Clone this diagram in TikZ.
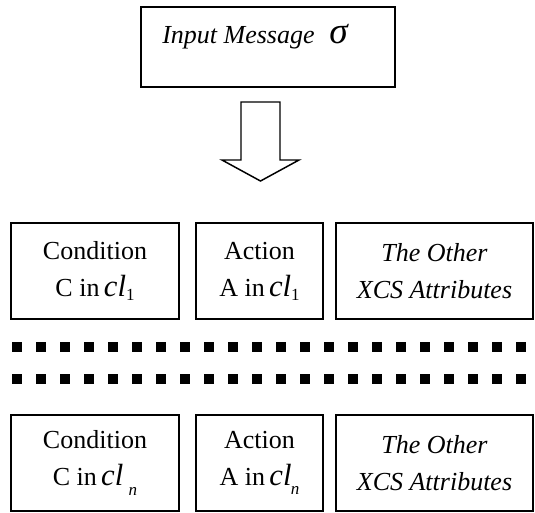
\documentclass[tikz,border=0pt]{standalone}
\usepackage{fontspec}
\setmainfont{Liberation Serif}
\usepackage{tikz}

% italic cl with a lowered index: #1 index, #2 gap, #3 drop
\newcommand{\clidx}[3]{{\fontsize{23}{23}\selectfont\itshape cl}\hspace{#2}\raisebox{-#3}{\fontsize{12.75}{12.75}\selectfont #1}}

\begin{document}
\begin{tikzpicture}[x=0.75pt,y=0.75pt,yscale=-1,xscale=1,
  cell/.style={draw, line width=1.5pt, inner sep=0pt, minimum height=72pt, align=center, font=\fontsize{19.5}{27.75}\selectfont},
  dotrow/.style={line width=7.5pt, dash pattern=on 7.5pt off 10.5pt}]
\path[use as bounding box] (0,0) rectangle (535,512);

%Shape: Rectangle
\node [draw, line width=1.5pt, minimum width=190.5pt, minimum height=60pt] (msg) at (268,47) {};
% Text Node
\node [anchor=base west, inner sep=0pt, font=\fontsize{19.5}{19.5}\selectfont\itshape] (msgtext) at (162,43) {Input Message\hspace{11pt}{\fontsize{28}{28}\selectfont σ}};

%Shape: Down Arrow
\draw [line width=1.1pt, line join=miter] (241,102) -- (280,102) -- (280,160) -- (299,160) -- (260.5,181) -- (222,160) -- (241,160) -- cycle ;

%Shape: Rectangle
\node [cell, minimum width=126pt] (cond1) at (95,271) {Condition\\C in\,\clidx{1}{0pt}{3pt}};
%Shape: Rectangle
\node [cell, minimum width=95.25pt] (act1) at (259.5,271) {Action\\A in\,\clidx{1}{0pt}{3pt}};
%Shape: Rectangle
\node [cell, minimum width=147.75pt, font=\fontsize{19.5}{27.75}\selectfont\itshape] (attr1) at (434.5,271) {The Other\\XCS Attributes};

%Dotted Lines
\coordinate (dotsAw) at (12,347);
\coordinate (dotsAe) at (526,347);
\coordinate (dotsBw) at (12,379);
\coordinate (dotsBe) at (526,379);
\draw [dotrow] (dotsAw) -- (dotsAe) ;
\draw [dotrow] (dotsBw) -- (dotsBe) ;

%Shape: Rectangle
\node [cell, minimum width=126pt] (condn) at (95,463) {Condition\\C in\,\clidx{\itshape n}{4pt}{7pt}};
%Shape: Rectangle
\node [cell, minimum width=95.25pt] (actn) at (259.5,463) {Action\\A in\,\clidx{\itshape n}{-0.5pt}{7pt}};
%Shape: Rectangle
\node [cell, minimum width=147.75pt, font=\fontsize{19.5}{27.75}\selectfont\itshape] (attrn) at (434.5,463) {The Other\\XCS Attributes};

\end{tikzpicture}
\end{document}
